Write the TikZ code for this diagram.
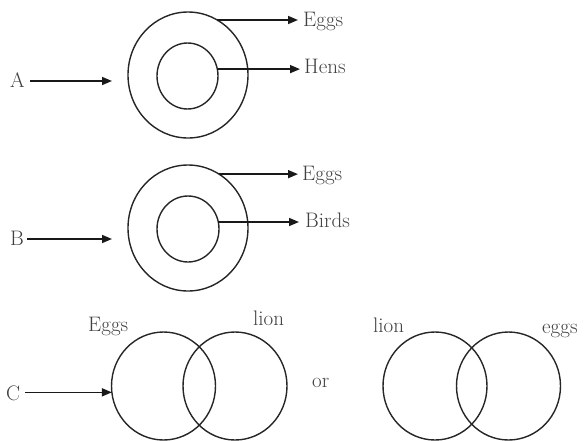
\documentclass[tikz,border=0pt]{standalone}
\usetikzlibrary{shapes.geometric,arrows.meta}
\begin{document}
\begin{tikzpicture}[x=1pt,y=-1pt,
  ring/.style={draw=black!85, line width=1.4pt, ellipse, inner sep=0pt, outer sep=0pt},
  lab/.style={inner sep=0pt, anchor=base west, text=black!75, font=\fontsize{21}{25}\selectfont},
  arr/.style={draw=black!90, line width=1.6pt, -{Triangle[length=10pt,width=8pt]}}]
\useasboundingbox (0,0) rectangle (584,440);
% ---- A ----
\node[ring, minimum width=120pt, minimum height=126pt] (Aout) at (188,75) {};
\node[ring, minimum width=61pt, minimum height=66pt] (Ain) at (187.5,76) {};
\node[lab] (labA) at (10,87) {A};
\node[lab] (eggsA) at (303,26) {Eggs};
\node[lab] (hens) at (304,73) {Hens};
\coordinate (Atip) at (112,81);
\draw[arr] ([xshift=5pt]labA.east |- Atip) -- (Atip);
\draw[arr] (Aout.62) -- ([xshift=-5pt]Aout.62 -| eggsA.west);
\draw[arr] (Ain.13) -- ([xshift=-4pt]Ain.13 -| hens.west);
% ---- B ----
\node[ring, minimum width=120pt, minimum height=126pt] (Bout) at (188,228) {};
\node[ring, minimum width=62pt, minimum height=66pt] (Bin) at (188,229) {};
\node[lab] (labB) at (10,245) {B};
\node[lab] (eggsB) at (302,180) {Eggs};
\node[lab] (birds) at (305,227) {Birds};
\coordinate (Btip) at (112,239);
\draw[arr] ([xshift=3pt]labB.east |- Btip) -- (Btip);
\draw[arr] (Bout.60) -- ([xshift=-4pt]Bout.60 -| eggsB.west);
\draw[arr] (Bin.13) -- ([xshift=-6pt]Bin.13 -| birds.west);
% ---- C ----
\node[ring, minimum width=104pt, minimum height=108pt] (C1) at (163.5,386) {};
\node[ring, minimum width=104pt, minimum height=108pt] (C2) at (235,386) {};
\node[ring, minimum width=104pt, minimum height=108pt] (C3) at (435,386) {};
\node[ring, minimum width=104pt, minimum height=108pt] (C4) at (508.5,386) {};
\node[lab] (labC) at (6,400) {C};
\node[lab] (eggsC) at (88,331) {Eggs};
\node[lab] (lionC) at (253,325) {lion};
\node[lab] (orC) at (312,387) {or};
\node[lab] (lionD) at (373,332) {lion};
\node[lab] (eggsD) at (542,333) {eggs};
\draw[arr] ([xshift=5pt]labC.east |- C1.187) -- (C1.187);
\end{tikzpicture}
\end{document}
